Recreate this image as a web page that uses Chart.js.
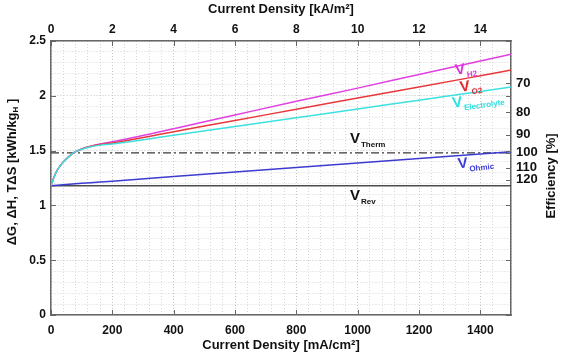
<!DOCTYPE html>
<html><head><meta charset="utf-8">
<script src="https://cdn.jsdelivr.net/npm/chart.js@4/dist/chart.umd.min.js"></script>
<style>html,body{margin:0;padding:0;background:#fff}</style>
</head><body>
<canvas id="c" width="567" height="354"></canvas>
<script>
// current density in mA/cm2, voltages
const currentDensity=[0,10,20,30,40,60,80,100,130,160,200,400,600,800,1000,1200,1400,1500];
const vH2=[1.18,1.26,1.32,1.36,1.395,1.45,1.49,1.515,1.54,1.56,1.58,1.70,1.825,1.95,2.07,2.195,2.318,2.38];
const vO2=[1.18,1.26,1.32,1.36,1.395,1.45,1.49,1.515,1.54,1.555,1.57,1.672,1.775,1.877,1.98,2.08,2.183,2.235];
const vElectrolyte=[1.18,1.26,1.32,1.36,1.395,1.45,1.49,1.512,1.535,1.55,1.56,1.64,1.72,1.80,1.88,1.96,2.04,2.08];
const vOhmic=[1.18,1.182,1.184,1.186,1.188,1.192,1.197,1.201,1.207,1.213,1.221,1.263,1.304,1.345,1.387,1.428,1.47,1.49];
const lineEnds=[0,1500];
const vTherm=[1.48,1.48];
const vRev=[1.18,1.18];
const effTicks=[70,80,90,100,110,120];
const thermRef=1.48;

const FONT='Arial, "Liberation Sans", sans-serif';

// label anchors in data units: [x, y, main, sub, color, angle]
const labels=[
[1334,2.235,"V","H2","#d935d9",-8],
[1350,2.08,"V","O2","#e02a30",-8],
[1325,1.934,"V","Electrolyte","#2fe0e0",-8],
[991,1.606,"V","Therm","#111",0],
[1343,1.378,"V","Ohmic","#3c3cd6",-6],
[991,1.086,"V","Rev","#111",0]
];

function pts(xs,ys){return xs.map((x,i)=>({x:x,y:ys[i]}));}

const decor={
id:"decor",
afterDraw(chart){
const c=chart.ctx,a=chart.chartArea,s=chart.scales;
c.save();
// inner tick marks
c.strokeStyle="#666";c.lineWidth=1;
c.beginPath();
s.x.ticks.forEach(t=>{if(t.value%200===0){const p=Math.round(s.x.getPixelForValue(t.value))+0.5;c.moveTo(p,a.bottom);c.lineTo(p,a.bottom-5);c.moveTo(p,a.top);c.lineTo(p,a.top+5);}});
s.y.ticks.forEach(t=>{if(Math.abs(t.value*2-Math.round(t.value*2))<1e-6){const p=Math.round(s.y.getPixelForValue(t.value))+0.5;c.moveTo(a.left,p);c.lineTo(a.left+5,p);c.moveTo(a.right,p);c.lineTo(a.right-5,p);}});
s.y2.ticks.forEach(t=>{const p=Math.round(s.y2.getPixelForValue(t.value))+0.5;c.moveTo(a.right,p);c.lineTo(a.right-5,p);});
c.stroke();
// line labels
labels.forEach(l=>{
const px=s.x.getPixelForValue(l[0]),py=s.y.getPixelForValue(l[1]);
c.save();c.translate(px,py);c.rotate(l[5]*Math.PI/180);
c.fillStyle=l[4];c.textBaseline="middle";c.textAlign="left";
c.font="bold 15px "+FONT;c.fillText(l[2],-5,0);
const w=c.measureText(l[2]).width;
c.font="bold 8px "+FONT;c.fillText(l[3],-5+w+1,6);
c.restore();
});
// left title with subscript
c.fillStyle="#111";c.textBaseline="middle";
c.save();c.translate(12,172);c.rotate(-Math.PI/2);
const p1="\u0394G, \u0394H, T\u0394S [kWh/kg",p2="H",p3=" ]";
c.font="bold 13px "+FONT;const w1=c.measureText(p1).width,w3=c.measureText(p3).width;
c.font="bold 8px "+FONT;const w2=c.measureText(p2).width;
let x0=-(w1+w2+w3)/2;
c.font="bold 13px "+FONT;c.textAlign="left";c.fillText(p1,x0,0);
c.font="bold 8px "+FONT;c.fillText(p2,x0+w1,4);
c.font="bold 13px "+FONT;c.fillText(p3,x0+w1+w2,0);
c.restore();
// right title
c.save();c.translate(551,176);c.rotate(-Math.PI/2);
c.font="bold 13px "+FONT;c.textAlign="center";c.fillText("Efficiency [%]",0,0);
c.restore();
c.restore();
}
};

const tickFont={family:FONT,size:12,weight:"bold"};
const gridCol=(ctx,major)=>major?"#c4c4c4":"#d6d6d6";

new Chart(document.getElementById("c"),{
type:"line",
data:{datasets:[
{data:pts(lineEnds,vRev),borderColor:"#4d4d4d",borderWidth:1.5,pointRadius:0,order:6},
{data:pts(lineEnds,vTherm),borderColor:"#3a3a3a",borderWidth:1.3,borderDash:[8,3,2,3],pointRadius:0,order:5},
{data:pts(currentDensity,vOhmic),borderColor:"#3b3bd0",borderWidth:1.5,pointRadius:0,order:4},
{data:pts(currentDensity,vH2),borderColor:"#e23fe0",borderWidth:1.5,pointRadius:0,cubicInterpolationMode:"monotone",order:3},
{data:pts(currentDensity,vO2),borderColor:"#e8383d",borderWidth:1.5,pointRadius:0,cubicInterpolationMode:"monotone",order:2},
{data:pts(currentDensity,vElectrolyte),borderColor:"#3ee0e0",borderWidth:1.5,pointRadius:0,cubicInterpolationMode:"monotone",order:1}
]},
options:{
responsive:false,animation:false,devicePixelRatio:1,
layout:{padding:0},
plugins:{legend:{display:false},tooltip:{enabled:false}},
scales:{
x:{type:"linear",position:"bottom",min:0,max:1500,
afterFit:s=>{s.height=39;},
ticks:{stepSize:40,maxTicksLimit:100,autoSkip:false,maxRotation:0,padding:8,color:"#111",font:tickFont,callback:v=>v%200===0?v:""},
grid:{drawTicks:false,color:c=>gridCol(c,c.tick&&c.tick.value%200===0)},
border:{color:"#666",width:1.5,dash:[1,2]},
title:{display:true,text:"Current Density [mA/cm\u00b2]",color:"#111",font:{family:FONT,size:13,weight:"bold"},padding:{top:0,bottom:1}}},
x2:{type:"linear",position:"top",min:0,max:15,
afterFit:s=>{s.height=41;},
ticks:{stepSize:2,autoSkip:false,maxRotation:0,padding:4,color:"#111",font:tickFont,callback:v=>v%2===0?v:""},
grid:{drawOnChartArea:false,drawTicks:false},
border:{color:"#666",width:1.5},
title:{display:true,text:"Current Density [kA/m\u00b2]",color:"#111",font:{family:FONT,size:13,weight:"bold"},padding:{top:2,bottom:0}}},
y:{type:"linear",position:"left",min:0,max:2.5,
afterFit:s=>{s.width=51;},
ticks:{stepSize:0.1,maxTicksLimit:100,autoSkip:false,padding:5,color:"#111",font:tickFont,
callback:v=>Math.abs(v*2-Math.round(v*2))<1e-6?String(+v.toFixed(1)):""},
grid:{drawTicks:false,color:c=>gridCol(c,c.tick&&Math.abs(c.tick.value*2-Math.round(c.tick.value*2))<1e-6)},
border:{color:"#666",width:1.5,dash:[1,2]}},
y2:{type:"linear",position:"right",min:0,max:2.5,
afterFit:s=>{s.width=56;},
afterBuildTicks:ax=>{ax.ticks=effTicks.map(e=>({value:thermRef*100/e}));},
ticks:{autoSkip:false,padding:5,color:"#111",font:{family:FONT,size:13,weight:"bold"},callback:(v,i)=>effTicks[i]},
grid:{drawOnChartArea:false,drawTicks:false},
border:{color:"#666",width:1.5}}
}
},
plugins:[decor]
});
</script>
</body></html>
